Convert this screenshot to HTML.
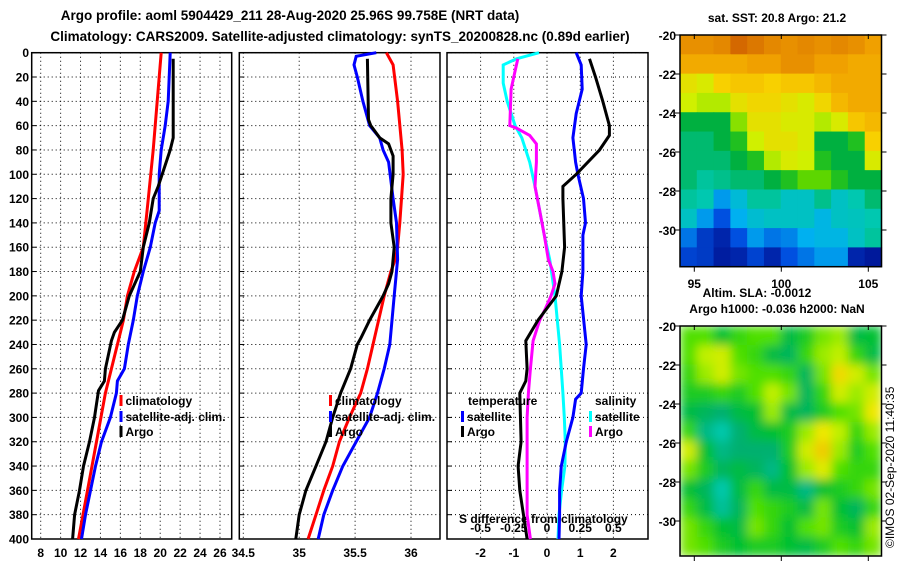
<!DOCTYPE html>
<html><head><meta charset="utf-8">
<style>
body{margin:0;background:#fff;}
svg{display:block;font-family:"Liberation Sans",sans-serif;font-weight:bold;}
</style></head>
<body>
<svg id="fig" width="900" height="580" viewBox="0 0 900 580" xmlns="http://www.w3.org/2000/svg">
<defs>
<filter id="blur" x="0" y="0" width="100%" height="100%"><feGaussianBlur stdDeviation="5" edgeMode="duplicate"/></filter>
<clipPath id="clipSla"><rect x="680" y="325" width="201" height="231"/></clipPath>
</defs>
<text x="290" y="20" font-size="13.5" text-anchor="middle">Argo profile: aoml 5904429_211 28-Aug-2020 25.96S 99.758E (NRT data)</text>
<text x="340" y="41" font-size="13.5" text-anchor="middle">Climatology: CARS2009. Satellite-adjusted climatology: synTS_20200828.nc (0.89d earlier)</text>
<text x="777" y="22" font-size="12" text-anchor="middle">sat. SST: 20.8 Argo: 21.2</text>
<text x="757" y="297" font-size="12" text-anchor="middle">Altim. SLA: -0.0012</text>
<text x="777" y="313" font-size="12" text-anchor="middle">Argo h1000: -0.036 h2000: NaN</text>
<text transform="translate(894,548) rotate(-90)" font-size="12" font-weight="normal">©IMOS 02-Sep-2020 11:40:35</text>
<g id="g"></g>
</svg>
<script>
// ---------- data ----------
const depthTicks=[0,20,40,60,80,100,120,140,160,180,200,220,240,260,280,300,320,340,360,380,400];
const tempTicks=[8,10,12,14,16,18,20,22,24,26];
const salTicks=[34.5,35,35.5,36];
const salTickLabels=['34.5','35','35.5','36'];
const tdiffTicks=[-2,-1,0,1,2];
const sdiffTicks=[-0.5,-0.25,0,0.25,0.5];
const sdiffTickLabels=['-0.5','-0.25','0','0.25','0.5'];

const tClimDepth=[0,40,80,120,160,180,200,220,240,280,320,360,400];
const tClim=[20.1,19.7,19.3,18.8,18.3,17.4,16.7,16.3,15.7,14.5,13.6,12.7,11.8];
const tSatDepth=[0,40,60,80,100,130,140,160,180,200,220,240,260,270,280,300,320,340,360,380,400];
const tSat=[21.0,20.8,20.5,20.1,19.9,19.9,19.5,19.0,18.3,17.7,17.3,16.8,16.4,15.7,15.6,15.0,14.1,13.5,13.0,12.5,12.1];
const tArgoDepth=[5,60,70,80,90,110,120,140,160,180,200,220,230,237,260,270,278,300,320,340,360,380,400];
const tArgo=[21.3,21.3,21.3,21.0,20.6,19.8,19.3,18.9,18.3,18.0,16.9,16.2,15.4,15.1,14.5,14.4,13.8,13.4,12.9,12.3,11.9,11.4,11.2];

const sClimDepth=[0,10,40,80,100,140,160,170,180,200,220,240,260,280,300,320,340,360,380,400];
const sClim=[35.78,35.84,35.88,35.92,35.93,35.90,35.88,35.86,35.82,35.76,35.71,35.66,35.61,35.55,35.45,35.36,35.30,35.22,35.15,35.08];
const sSatDepth=[0,3,10,20,40,60,70,80,90,120,140,170,200,220,240,260,280,300,320,340,360,380,400];
const sSat=[35.69,35.51,35.49,35.52,35.57,35.63,35.72,35.75,35.80,35.84,35.87,35.88,35.85,35.83,35.81,35.76,35.70,35.63,35.51,35.39,35.30,35.22,35.17];
const sArgoDepth=[5,55,60,70,75,85,100,120,140,160,180,190,200,220,235,240,260,280,300,320,340,360,380,400];
const sArgo=[35.61,35.62,35.64,35.72,35.80,35.84,35.84,35.82,35.82,35.85,35.83,35.80,35.75,35.63,35.55,35.52,35.46,35.37,35.30,35.24,35.15,35.06,35.00,34.97];

const dSsatDepth=[0,5,10,25,40,60,70,90,110,130,150,170,200,240,280,300,320,340,360,380,400];
const dSsat=[-0.06,-0.23,-0.33,-0.33,-0.30,-0.24,-0.19,-0.13,-0.09,-0.055,-0.02,0.02,0.06,0.095,0.12,0.13,0.138,0.135,0.11,0.09,0.083];
const dSargoDepth=[5,15,30,60,62,68,75,90,110,130,150,170,180,190,200,210,220,237,260,280,300,340,380,400];
const dSargo=[-0.22,-0.24,-0.27,-0.28,-0.23,-0.13,-0.08,-0.08,-0.09,-0.055,-0.02,0.01,0.045,0.06,0.03,-0.01,-0.055,-0.105,-0.125,-0.14,-0.15,-0.15,-0.15,-0.125];
const dTsatDepth=[0,10,30,50,70,90,100,120,140,150,180,200,240,260,280,285,300,320,340,360,380,400];
const dTsat=[0.88,1.03,1.06,0.88,0.78,0.86,0.93,1.10,1.16,1.08,1.08,1.03,1.18,1.10,1.03,0.86,0.78,0.58,0.43,0.38,0.38,0.36];
const dTargoDepth=[5,20,40,60,68,80,100,110,120,160,180,200,220,237,260,270,280,320,340,360,400];
const dTargo=[1.28,1.46,1.68,1.88,1.88,1.58,0.88,0.48,0.48,0.53,0.45,0.28,-0.27,-0.64,-0.60,-0.64,-0.82,-0.78,-0.87,-0.82,-0.60];

const lonTicks=[95,100,105];
const latTicks=[-20,-22,-24,-26,-28,-30];
const sstGrid=[
[0.92,0.92,0.93,0.97,0.95,0.93,0.92,0.93,0.92,0.93,0.92,0.90],
[0.88,0.88,0.88,0.88,0.90,0.90,0.92,0.92,0.90,0.90,0.88,0.88],
[0.75,0.72,0.80,0.82,0.82,0.80,0.82,0.82,0.85,0.88,0.88,0.88],
[0.70,0.68,0.68,0.75,0.78,0.78,0.75,0.72,0.78,0.85,0.88,0.88],
[0.50,0.50,0.50,0.65,0.75,0.75,0.72,0.72,0.68,0.72,0.82,0.85],
[0.45,0.45,0.50,0.55,0.70,0.75,0.75,0.72,0.50,0.50,0.55,0.80],
[0.45,0.45,0.45,0.50,0.55,0.68,0.72,0.70,0.55,0.50,0.50,0.72],
[0.45,0.40,0.42,0.45,0.45,0.50,0.55,0.62,0.62,0.55,0.50,0.50],
[0.40,0.38,0.25,0.32,0.40,0.40,0.35,0.35,0.42,0.35,0.38,0.45],
[0.35,0.25,0.15,0.28,0.33,0.35,0.35,0.35,0.30,0.35,0.36,0.38],
[0.20,0.10,0.05,0.15,0.25,0.20,0.22,0.28,0.30,0.30,0.35,0.40],
[0.12,0.10,0.03,0.05,0.12,0.05,0.15,0.20,0.25,0.25,0.05,0.02]];
const slaGrid=[
[0.50,0.50,0.35,0.45,0.50,0.50,0.30,0.40,0.55,0.60,0.30,0.35],
[0.50,0.65,0.70,0.50,0.45,0.30,0.25,0.45,0.60,0.65,0.45,0.30],
[0.45,0.60,0.70,0.55,0.50,0.50,0.45,0.25,0.55,0.85,0.70,0.55],
[0.40,0.40,0.45,0.40,0.50,0.65,0.55,0.25,0.45,0.70,0.60,0.70],
[0.30,0.25,0.20,0.30,0.35,0.60,0.30,0.25,0.40,0.50,0.55,0.80],
[0.45,0.15,0.05,0.20,0.30,0.35,0.40,0.60,0.80,0.65,0.45,0.60],
[0.70,0.35,0.15,0.20,0.20,0.20,0.40,0.70,0.90,0.60,0.40,0.50],
[0.55,0.40,0.25,0.30,0.25,0.15,0.35,0.60,0.75,0.50,0.45,0.45],
[0.35,0.25,0.05,0.30,0.45,0.30,0.30,0.15,0.35,0.40,0.45,0.55],
[0.45,0.30,0.10,0.25,0.50,0.45,0.40,0.30,0.55,0.35,0.25,0.45],
[0.55,0.45,0.35,0.30,0.55,0.45,0.35,0.50,0.55,0.40,0.35,0.60],
[0.55,0.50,0.40,0.35,0.40,0.40,0.35,0.30,0.40,0.50,0.45,0.55]];

// ---------- helpers ----------
const NS='http://www.w3.org/2000/svg';
const G=document.getElementById('g');
function mk(tag,attrs,parent){const e=document.createElementNS(NS,tag);for(const k in attrs)e.setAttribute(k,attrs[k]);(parent||G).appendChild(e);return e;}
const Y0=52.7,Y1=539;
const yD=d=>Y0+(Y1-Y0)*d/400;
const xT=t=>40.7+(t-8)*9.96;
const xS=s=>243.3+(s-34.5)*111.8;
const xDT=t=>547+t*33.2;
const xDS=s=>547+s*4*33.2;
const panels=[[31.7,231.7],[239.3,440],[447,648]];

panels.forEach((p,i)=>{
  const gp=mk('g',{});
  
  
  depthTicks.forEach(d=>{
    const l=mk('line',{x1:p[0],x2:p[1],y1:yD(d),y2:yD(d),stroke:'#000','stroke-width':1,'stroke-dasharray':'1,3'},gp);
    
    
    mk('line',{x1:p[0],x2:p[0]+5,y1:yD(d),y2:yD(d),stroke:'#000'},gp);
  });
  const vt=i==0?tempTicks.map(xT):i==1?salTicks.map(xS):tdiffTicks.map(xDT);
  vt.forEach(x=>{
    const l=mk('line',{x1:x,x2:x,y1:Y0,y2:Y1,stroke:'#000','stroke-width':1,'stroke-dasharray':'1,3'},gp);
    
    
  });
  const r=mk('rect',{x:p[0],y:Y0,width:p[1]-p[0],height:Y1-Y0,fill:'none',stroke:'#000','stroke-width':1.5},gp);
  
  
});
depthTicks.forEach(d=>{
  const t=mk('text',{x:29,y:yD(d)+4.5,'font-size':12,'text-anchor':'end'});
  t.textContent=d;
  
  
});
tempTicks.forEach(v=>{
  const t=mk('text',{x:xT(v),y:557,'font-size':12,'text-anchor':'middle'});t.textContent=v;
  
  
});
salTicks.forEach((v,i)=>{
  const t=mk('text',{x:xS(v),y:557,'font-size':12,'text-anchor':'middle'});t.textContent=salTickLabels[i];
  
  
});
tdiffTicks.forEach(v=>{
  const t=mk('text',{x:xDT(v),y:557,'font-size':12,'text-anchor':'middle'});t.textContent=v;
  
  
});
sdiffTicks.forEach((v,i)=>{
  const t=mk('text',{x:xDS(v),y:532,'font-size':12,'text-anchor':'middle'});t.textContent=sdiffTickLabels[i];
  
  
});
{const t=mk('text',{x:459,y:523,'font-size':12});t.textContent='S difference from climatology';

}

function line(ds,vs,xf,color,name){
  const pts=ds.map((d,i)=>xf(vs[i]).toFixed(1)+','+yD(d).toFixed(1)).join(' ');
  const p=mk('polyline',{points:pts,fill:'none',stroke:color,'stroke-width':3,'stroke-linejoin':'miter'});
  
  
}
line(tClimDepth,tClim,xT,'#f00','temperature-climatology-line');
line(tSatDepth,tSat,xT,'#00f','temperature-satellite-line');
line(tArgoDepth,tArgo,xT,'#000','temperature-argo-line');
line(sClimDepth,sClim,xS,'#f00','salinity-climatology-line');
line(sSatDepth,sSat,xS,'#00f','salinity-satellite-line');
line(sArgoDepth,sArgo,xS,'#000','salinity-argo-line');
line(dSsatDepth,dSsat,xDS,'#0ff','salinity-diff-satellite-line');
line(dSargoDepth,dSargo,xDS,'#f0f','salinity-diff-argo-line');
line(dTsatDepth,dTsat,xDT,'#00f','temperature-diff-satellite-line');
line(dTargoDepth,dTargo,xDT,'#000','temperature-diff-argo-line');

function legend(x,y,color,label,name){
  const g=mk('g',{});
  
  
  mk('rect',{x:x,y:y-10,width:3,height:11,fill:color},g);
  const t=mk('text',{x:x+6,y:y,'font-size':12},g);t.textContent=label;
}
legend(119.5,405,'#f00','climatology','legend-climatology');
legend(119.5,421,'#00f','satellite-adj. clim.','legend-satellite');
legend(119.5,436,'#000','Argo','legend-argo');
legend(329,405,'#f00','climatology','legend-climatology-2');
legend(329,421,'#00f','satellite-adj. clim.','legend-satellite-2');
legend(329,436,'#000','Argo','legend-argo-2');
{const t=mk('text',{x:468,y:405,'font-size':12});t.textContent='temperature';

const t2=mk('text',{x:595,y:405,'font-size':12});t2.textContent='salinity';
}
legend(461,421,'#00f','satellite','legend-temp-satellite');
legend(461,436,'#000','Argo','legend-temp-argo');
legend(589,421,'#0ff','satellite','legend-sal-satellite');
legend(589,436,'#f0f','Argo','legend-sal-argo');

// ---------- maps ----------
const MX0=680,MX1=881.5;
const xLon=l=>694.3+(l-95)*17.4;
function cmap(stops,v){
  for(let i=1;i<stops.length;i++){if(v<=stops[i][0]){const a=stops[i-1],b=stops[i];const f=(v-a[0])/(b[0]-a[0]);
    const c=a[1].map((q,k)=>Math.round(q+(b[1][k]-q)*f));return 'rgb('+c.join(',')+')';}}
  return 'rgb('+stops[stops.length-1][1].join(',')+')';
}
const sstStops=[[0,[0,16,144]],[0.15,[0,80,224]],[0.28,[0,176,240]],[0.38,[0,200,176]],[0.5,[0,176,64]],[0.6,[64,208,0]],[0.7,[208,240,0]],[0.8,[248,208,0]],[0.9,[240,160,0]],[1,[200,80,0]]];
const slaStops=[[0,[0,208,192]],[0.2,[0,176,112]],[0.35,[0,192,48]],[0.5,[80,224,0]],[0.65,[192,240,0]],[0.8,[240,232,0]],[1,[240,176,0]]];
function drawMap(grid,stops,y0,y1,name,blur){
  const g=mk('g',blur?{'clip-path':'url(#clipSla)'}:{});
  
  
  const inner=mk('g',blur?{filter:'url(#blur)'}:{},g);
  const rows=grid.length,cols=grid[0].length,cw=(MX1-MX0)/cols,ch=(y1-y0)/rows;
  grid.forEach((row,r)=>row.forEach((v,c)=>{
    const cell=mk('rect',{x:MX0+c*cw,y:y0+r*ch,width:cw+0.6,height:ch+0.6,fill:cmap(stops,v)},inner);
    
    
  }));
  const fr=mk('rect',{x:MX0,y:y0,width:MX1-MX0,height:y1-y0,fill:'none',stroke:'#000','stroke-width':1.5});
  
  
  const yLat=l=>y0+(-20-l)*19.5;
  latTicks.forEach(l=>{
    mk('line',{x1:MX0-5,x2:MX0,y1:yLat(l),y2:yLat(l),stroke:'#000'});
    mk('line',{x1:MX1,x2:MX1+5,y1:yLat(l),y2:yLat(l),stroke:'#000'});
    const t=mk('text',{x:MX0-4,y:yLat(l)+5,'font-size':12,'text-anchor':'end'});t.textContent=l;
    
    
  });
  lonTicks.forEach(l=>{
    mk('line',{x1:xLon(l),x2:xLon(l),y1:y0-1,y2:y0+4,stroke:'#000'});
    mk('line',{x1:xLon(l),x2:xLon(l),y1:y1,y2:y1+5,stroke:'#000'});
  });
}
drawMap(sstGrid,sstStops,35,266.7,'sst-map',false);
drawMap(slaGrid,slaStops,326,556,'sla-map',true);
lonTicks.forEach(l=>{
  const t=mk('text',{x:xLon(l),y:288,'font-size':12,'text-anchor':'middle'});t.textContent=l;
  
  
});
</script>
</body></html>
